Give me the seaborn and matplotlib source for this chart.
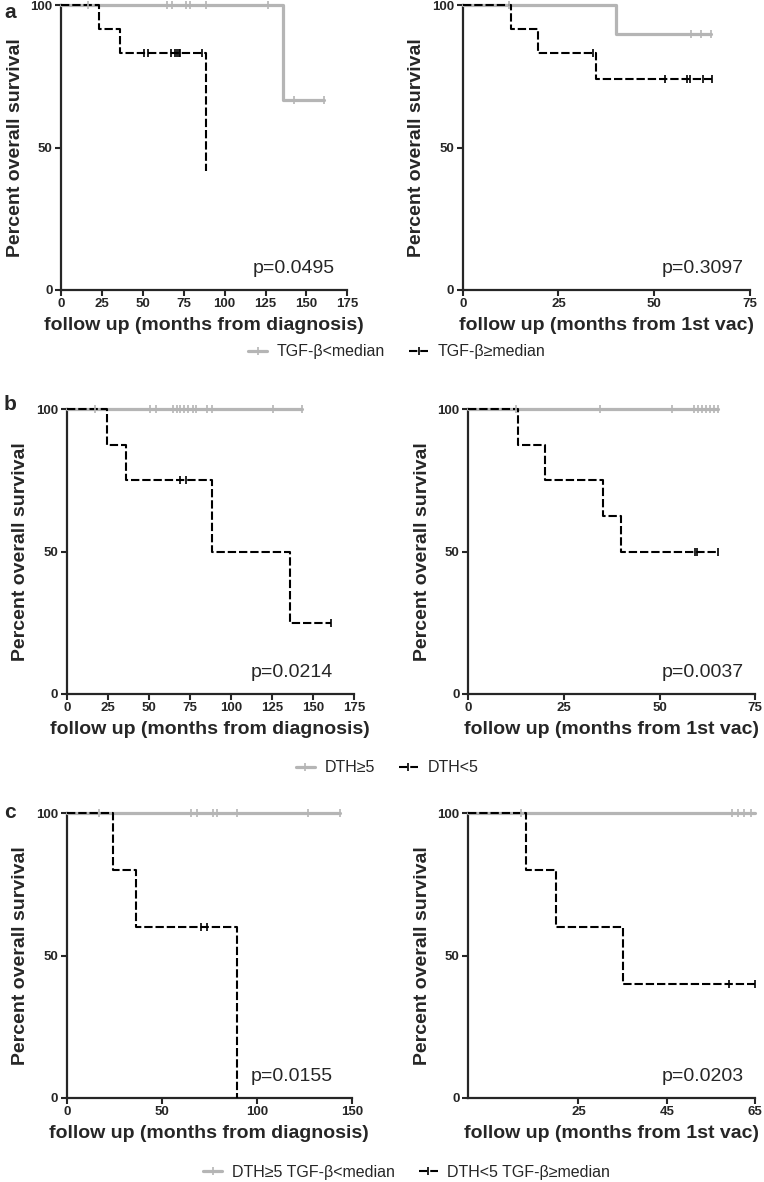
import numpy as np
import pandas as pd
import seaborn as sns
import matplotlib.pyplot as plt
from matplotlib.lines import Line2D

# ---- panel a : TGF-beta below / above median ----
a_dx_low_t = [0, 136, 161]
a_dx_low_s = [100, 66.7, 66.7]
a_dx_low_cens = [16.6, 64.8, 67.9, 76.6, 78.7, 88.8, 126.4, 142.7, 161]
a_dx_high_t = [0, 23, 35.8, 88.8]
a_dx_high_s = [100, 91.7, 83.3, 41.7]
a_dx_high_cens = [51, 53, 67, 69.5, 70.6, 72, 73, 86]

a_vac_low_t = [0, 39.9, 64.7]
a_vac_low_s = [100, 90, 90]
a_vac_low_cens = [12.1, 59.6, 62.1, 64.7]
a_vac_high_t = [0, 12.6, 19.7, 34.9, 65.1]
a_vac_high_s = [100, 91.7, 83.3, 74.1, 74.1]
a_vac_high_cens = [34, 52.7, 58.6, 59.4, 62.7, 65.1]

# ---- panel b : DTH >=5 / <5 ----
b_dx_hi_t = [0, 143.1]
b_dx_hi_s = [100, 100]
b_dx_hi_cens = [17.2, 50.7, 54.2, 64.9, 67, 69, 71.4, 74, 76.7, 78.7, 85.6, 88.7, 125.8, 143.1]
b_dx_lo_t = [0, 24.4, 36.1, 88.7, 136, 161]
b_dx_lo_s = [100, 87.5, 75, 50, 25, 25]
b_dx_lo_cens = [69, 72.5, 161]

b_vac_hi_t = [0, 65.2]
b_vac_hi_s = [100, 100]
b_vac_hi_cens = [12.4, 34.4, 53.2, 59.1, 60.1, 61.1, 62.2, 63.2, 64.2, 65.2]
b_vac_lo_t = [0, 13.1, 20.2, 35.2, 40, 65.2]
b_vac_lo_s = [100, 87.5, 75, 62.5, 50, 50]
b_vac_lo_cens = [59.3, 59.9, 65.2]

# ---- panel c : combined ----
c_dx_good_t = [0, 143.8]
c_dx_good_s = [100, 100]
c_dx_good_cens = [17.2, 65.4, 68.4, 77.2, 79.3, 89.5, 127, 143.8]
c_dx_bad_t = [0, 24.2, 36.3, 89.6]
c_dx_bad_s = [100, 80, 60, 0]
c_dx_bad_cens = [70.7, 73.7]

c_vac_good_t = [0, 65]
c_vac_good_s = [100, 100]
c_vac_good_cens = [12.1, 59.8, 61.2, 62.5, 64.2]
c_vac_bad_t = [0, 13.1, 20, 35.2, 65]
c_vac_bad_s = [100, 80, 60, 40, 40]
c_vac_bad_cens = [59, 65]

p_values = ["p=0.0495", "p=0.3097", "p=0.0214", "p=0.0037", "p=0.0155", "p=0.0203"]
xlab_dx = "follow up (months from diagnosis)"
xlab_vac = "follow up (months from 1st vac)"
legend_a = ["TGF-β<median", "TGF-β≥median"]
legend_b = ["DTH≥5", "DTH<5"]
legend_c = ["DTH≥5 TGF-β<median", "DTH<5 TGF-β≥median"]

GRAY = "#b5b5b5"
DASH = (0, (4, 1.4))

sns.set_style("ticks")
plt.rcParams["font.family"] = ["Liberation Sans", "DejaVu Sans"]

W, H = 764, 1182
fig = plt.figure(figsize=(W / 100, H / 100), dpi=100)


def rect(x0, x1, ytop, ybot):
    return [x0 / W, 1 - ybot / H, (x1 - x0) / W, (ybot - ytop) / H]


def km(ax, t, s, cens, color, ls, lw):
    df = pd.DataFrame({"t": t, "s": s})
    sns.lineplot(data=df, x="t", y="s", drawstyle="steps-post", color=color,
                 linestyle=ls, lw=lw, estimator=None, ax=ax, clip_on=False, zorder=3)
    idx = np.searchsorted(t, cens, side="right") - 1
    cdf = pd.DataFrame({"t": cens, "s": np.asarray(s)[idx]})
    sns.scatterplot(data=cdf, x="t", y="s", marker="|", s=36, color=color,
                    linewidth=1.2, ax=ax, clip_on=False, zorder=4)


def style(ax, xmax, xticks, xlabel, p, px):
    ax.set_xlim(0, xmax)
    ax.set_ylim(0, 100)
    ax.set_xticks(xticks)
    ax.set_yticks([0, 50, 100])
    ax.set_xlabel(xlabel, fontsize=14, fontweight="bold", labelpad=5)
    ax.set_ylabel("Percent overall survival", fontsize=14, fontweight="bold", labelpad=5)
    sns.despine(ax=ax)
    for sp in ["left", "bottom"]:
        ax.spines[sp].set_linewidth(1.6)
    ax.tick_params(width=1.5, length=4, labelsize=9.5, pad=2)
    for lab in ax.get_xticklabels() + ax.get_yticklabels():
        lab.set_fontweight("bold")
    ax.text(px, 0.06, p, transform=ax.transAxes, ha="right", va="baseline", fontsize=14)


panels = [
    (rect(61, 347.3, 5.3, 290), 175, range(0, 176, 25), xlab_dx, 0.957,
     (a_dx_low_t, a_dx_low_s, a_dx_low_cens), (a_dx_high_t, a_dx_high_s, a_dx_high_cens)),
    (rect(462.7, 750, 5.3, 290), 75, range(0, 76, 25), xlab_vac, 0.978,
     (a_vac_low_t, a_vac_low_s, a_vac_low_cens), (a_vac_high_t, a_vac_high_s, a_vac_high_cens)),
    (rect(66.7, 354, 409.3, 694), 175, range(0, 176, 25), xlab_dx, 0.927,
     (b_dx_hi_t, b_dx_hi_s, b_dx_hi_cens), (b_dx_lo_t, b_dx_lo_s, b_dx_lo_cens)),
    (rect(468, 755.3, 409.3, 694), 75, range(0, 76, 25), xlab_vac, 0.96,
     (b_vac_hi_t, b_vac_hi_s, b_vac_hi_cens), (b_vac_lo_t, b_vac_lo_s, b_vac_lo_cens)),
    (rect(66.7, 351.7, 813.3, 1098), 150, range(0, 151, 50), xlab_dx, 0.934,
     (c_dx_good_t, c_dx_good_s, c_dx_good_cens), (c_dx_bad_t, c_dx_bad_s, c_dx_bad_cens)),
    (rect(468, 755, 813.3, 1098), 65, [25, 45, 65], xlab_vac, 0.96,
     (c_vac_good_t, c_vac_good_s, c_vac_good_cens), (c_vac_bad_t, c_vac_bad_s, c_vac_bad_cens)),
]

for i, (r, xmax, xt, xl, px, good, bad) in enumerate(panels):
    ax = fig.add_axes(r)
    km(ax, *good, GRAY, "-", 2.3)
    km(ax, *bad, "black", DASH, 1.5)
    style(ax, xmax, xt, xl, p_values[i], px)

for letter, ytop in [("a", 3), ("b", 395), ("c", 803)]:
    fig.text(4 / W, 1 - ytop / H, letter, fontsize=15, fontweight="bold", va="top")

handles = [Line2D([], [], color=GRAY, lw=2.3, marker="|", markersize=6, markeredgewidth=1.2),
           Line2D([], [], color="black", lw=1.5, linestyle=DASH, marker="|", markersize=6,
                  markeredgewidth=1.2)]
for labels, cx, cy in [(legend_a, 396.7, 352), (legend_b, 387, 768), (legend_c, 406.7, 1172)]:
    fig.legend(handles, labels, loc="center", bbox_to_anchor=(cx / W, 1 - cy / H), ncol=2,
               frameon=False, fontsize=11.5, handlelength=1.2, handletextpad=0.6,
               columnspacing=1.5, borderpad=0, borderaxespad=0)

fig.savefig("out.png", dpi=100)
